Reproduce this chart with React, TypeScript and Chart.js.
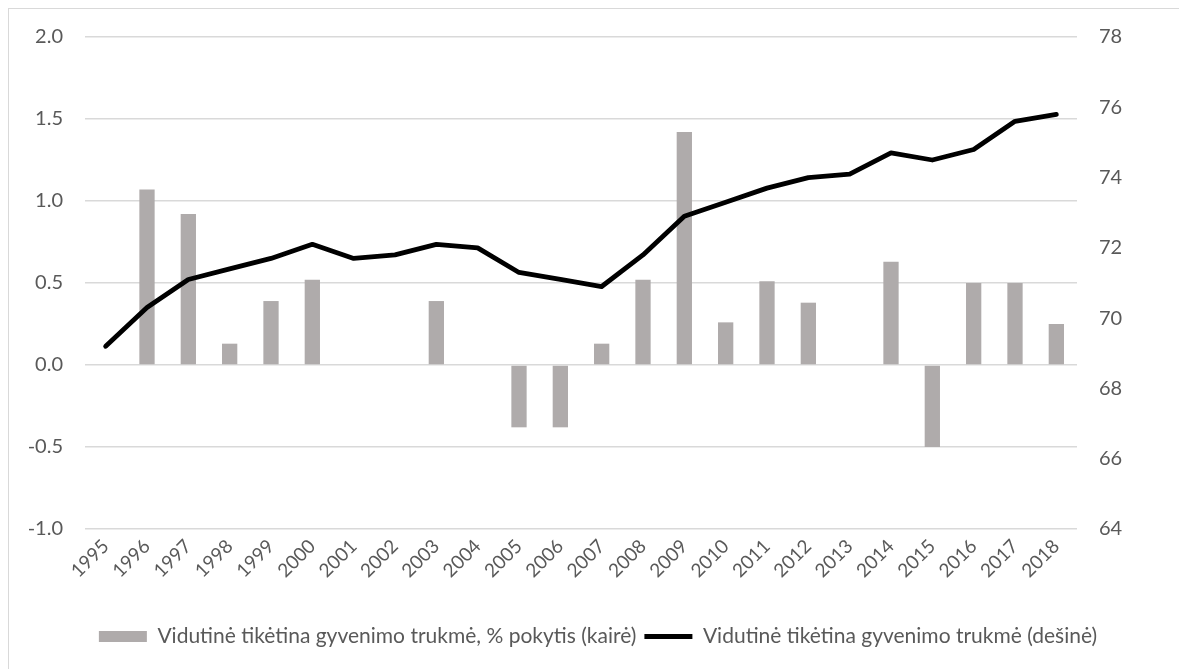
import React, { useEffect, useRef } from "react";
import { Chart, registerables } from "chart.js";

Chart.register(...registerables);

const years = ["1995","1996","1997","1998","1999","2000","2001","2002","2003","2004","2005","2006","2007","2008","2009","2010","2011","2012","2013","2014","2015","2016","2017","2018"];
const changePct = [null, 1.07, 0.92, 0.13, 0.39, 0.52, 0, 0, 0.39, 0, -0.38, -0.38, 0.13, 0.52, 1.42, 0.26, 0.51, 0.38, 0, 0.63, -0.5, 0.5, 0.5, 0.25];
const lifeExp = [69.2, 70.3, 71.1, 71.4, 71.7, 72.1, 71.7, 71.8, 72.1, 72.0, 71.3, 71.1, 70.9, 71.8, 72.9, 73.3, 73.7, 74.0, 74.1, 74.7, 74.5, 74.8, 75.6, 75.8];
const barLabel = "Vidutinė tikėtina gyvenimo trukmė, % pokytis (kairė)";
const lineLabel = "Vidutinė tikėtina gyvenimo trukmė (dešinė)";

const FONT = "Lato, 'Open Sans', sans-serif";
const TEXT = "#595959";
const GRID = "#d9d9d9";

export default function App() {
  const ref = useRef<HTMLCanvasElement>(null);
  useEffect(() => {
    document.body.style.overflow = "hidden";
    const chart = new Chart(ref.current!, {
      data: {
        labels: years,
        datasets: [
          {
            type: "bar",
            label: barLabel,
            data: changePct as any,
            backgroundColor: "#AFABAB",
            borderColor: "#AFABAB",
            borderWidth: 0,
            barPercentage: 0.37,
            categoryPercentage: 1,
            yAxisID: "y",
            order: 2,
          },
          {
            type: "line",
            label: lineLabel,
            data: lifeExp,
            borderColor: "#000000",
            backgroundColor: "#000000",
            borderWidth: 4.8,
            pointRadius: 0,
            borderCapStyle: "round",
            borderJoinStyle: "round",
            tension: 0,
            yAxisID: "y1",
            order: 1,
          },
        ],
      },
      options: {
        animation: false,
        responsive: false,
        layout: { padding: { top: 0, bottom: 12, left: 0, right: 0 } },
        plugins: {
          tooltip: { enabled: false },
          legend: {
            position: "bottom",
            labels: {
              usePointStyle: true,
              pointStyleWidth: 48,
              boxHeight: 11,
              padding: 8,
              color: TEXT,
              font: { family: FONT, size: 21 },
              sort: (a: any, b: any) => a.datasetIndex - b.datasetIndex,
              generateLabels: (chart: any) => {
                const items = Chart.defaults.plugins.legend.labels.generateLabels(chart);
                items.forEach((it: any) => {
                  if (it.datasetIndex === 0) {
                    it.pointStyle = "rect";
                    it.lineWidth = 0;
                    it.fillStyle = "#AFABAB";
                  } else {
                    it.pointStyle = "line";
                    it.lineWidth = 5;
                    it.strokeStyle = "#000000";
                  }
                });
                return items;
              },
            },
          },
        },
        scales: {
          x: {
            offset: true,
            grid: { display: false, drawTicks: false },
            border: { display: false },
            ticks: {
              color: TEXT,
              font: { family: FONT, size: 19 },
              minRotation: 45,
              maxRotation: 45,
              autoSkip: false,
              padding: 6,
            },
            afterFit: (s: any) => { s.height = 89; },
          },
          y: {
            position: "left",
            min: -1,
            max: 2,
            grid: { color: GRID, lineWidth: 1.5, drawTicks: false },
            border: { display: false },
            ticks: {
              stepSize: 0.5,
              color: TEXT,
              font: { family: FONT, size: 20, lineHeight: 0.6 },
              padding: 22,
              callback: (v: any) => Number(v).toFixed(1),
            },
            afterFit: (s: any) => { s.width = 76; },
          },
          y1: {
            position: "right",
            min: 64,
            max: 78,
            grid: { display: false, drawTicks: false },
            border: { display: false },
            ticks: {
              stepSize: 2,
              color: TEXT,
              font: { family: FONT, size: 20, lineHeight: 0.6 },
              padding: 22,
            },
            afterFit: (s: any) => { s.width = 110; },
          },
        },
      },
    } as any);
    return () => chart.destroy();
  }, []);
  return (
    <div style={{ borderLeft: "1px solid #d9d9d9", borderTop: "1px solid #d9d9d9", width: 1178, height: 661, overflow: "hidden" }}>
      <canvas ref={ref} width={1178} height={660} style={{ display: "block" }} />
    </div>
  );
}
